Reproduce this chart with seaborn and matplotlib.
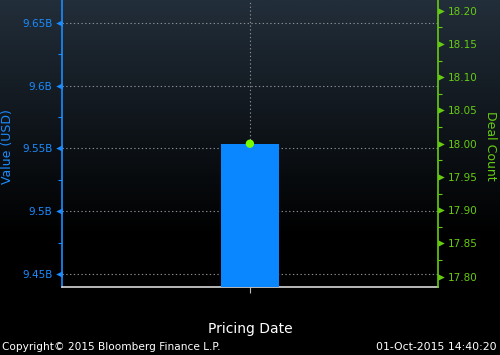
import numpy as np
import pandas as pd
import matplotlib
matplotlib.use("Agg")
import matplotlib.pyplot as plt
import matplotlib.transforms as mtransforms
from matplotlib.colors import LinearSegmentedColormap
import seaborn as sns

# ---- data ----
categories = ["2015-10-01"]
value_usd = [9.5535e9]
deal_count = [18.0]
left_ticks = [9.45e9, 9.50e9, 9.55e9, 9.60e9, 9.65e9]
left_labels = ["9.45B", "9.5B", "9.55B", "9.6B", "9.65B"]
right_ticks = [17.80, 17.85, 17.90, 17.95, 18.00, 18.05, 18.10, 18.15, 18.20]
right_labels = ["17.80", "17.85", "17.90", "17.95", "18.00", "18.05", "18.10", "18.15", "18.20"]

BLUE = "#1a8cff"
BAR = "#0a86ff"
GREEN = "#66cc11"
DOT = "#77ff00"
GRID = "#8a8f95"

sns.set_theme(style="dark")
plt.rcParams["font.family"] = ["DejaVu Sans"]

fig = plt.figure(figsize=(5.0, 3.55), dpi=100)
fig.patch.set_facecolor("black")

# background gradient
bg = fig.add_axes([0, 0, 1, 1], zorder=-10)
grad = np.linspace(0, 1, 256).reshape(-1, 1)
cmap = LinearSegmentedColormap.from_list("bb", ["#222e3a", "#10161c", "#000000", "#000000"])
bg.imshow(grad, aspect="auto", cmap=cmap, extent=[0, 1, 0, 1], origin="upper")
bg.set_axis_off()

ax = fig.add_axes([0.123, 0.1924, 0.7536, 0.8076])
ax.set_facecolor("none")
ax.patch.set_alpha(0)

df = pd.DataFrame({"date": categories, "value": value_usd, "count": deal_count})
sns.barplot(data=df, x="date", y="value", ax=ax, color=BAR, width=0.155,
            saturation=1, edgecolor="none", zorder=3)

ax.set_yticks(left_ticks)
ax.set_yticklabels(left_labels)
ax.set_yticks([t + 0.025e9 for t in left_ticks], minor=True)
ax.set_xlim(-0.5, 0.5)
ax.set_ylim(9.43989e9, 9.66807e9)
ax.tick_params(axis="y", which="major", length=0, pad=6.5, labelsize=7.5, colors=BLUE, labelcolor=BLUE)
ax.tick_params(axis="y", which="minor", length=3, width=0.8, color=BLUE, direction="out", left=True)
ax.tick_params(axis="x", which="major", length=4, width=0.8, color="#bbbbbb", labelbottom=False, bottom=True)
ax.grid(True, axis="y", which="major", linestyle=(0, (1.2, 2.2)), color=GRID, linewidth=0.8, zorder=0)
ax.grid(True, axis="x", which="major", linestyle=(0, (1.2, 2.2)), color=GRID, linewidth=0.8, zorder=0)
ax.grid(False, which="minor")
ax.set_axisbelow(True)

for s in ["top", "right"]:
    ax.spines[s].set_visible(False)
ax.spines["left"].set_visible(True)
ax.spines["left"].set_color(BLUE)
ax.spines["left"].set_linewidth(1.2)
ax.spines["bottom"].set_visible(True)
ax.spines["bottom"].set_color("#d8d8d8")
ax.spines["bottom"].set_linewidth(1.2)

# triangle tick markers on left axis
trL = mtransforms.blended_transform_factory(ax.transAxes, ax.transData)
trL = trL + mtransforms.ScaledTranslation(-3 / 100, 0, fig.dpi_scale_trans)
ax.scatter([0] * len(left_ticks), left_ticks, marker="<", s=22, color=BLUE,
           transform=trL, clip_on=False, zorder=5, linewidths=0)
ax.set_ylim(9.43989e9, 9.66807e9)

ax.set_xlabel("Pricing Date", color="white", fontsize=10, va="top")
ax.xaxis.set_label_coords(0.5, -0.122)
ax.set_ylabel("Value (USD)", color=BLUE, fontsize=9, va="bottom")
ax.yaxis.set_label_coords(-0.126, 0.49)

ax2 = ax.twinx()
ax2.set_facecolor("none")
sns.scatterplot(data=df, x="date", y="count", ax=ax2, color=DOT, s=36,
                edgecolor="none", zorder=6, clip_on=False)
ax2.set_yticks(right_ticks)
ax2.set_yticklabels(right_labels)
ax2.set_yticks([t + 0.025 for t in right_ticks], minor=True)
ax2.set_xlim(-0.5, 0.5)
ax2.set_ylim(17.78496, 18.2161)
ax2.tick_params(axis="y", which="major", length=0, pad=7, labelsize=7.5, colors=GREEN, labelcolor=GREEN)
ax2.tick_params(axis="y", which="minor", length=3, width=0.8, color=GREEN, direction="out", right=True)
ax2.grid(False)
for s in ["top", "left", "bottom"]:
    ax2.spines[s].set_visible(False)
ax2.spines["right"].set_visible(True)
ax2.spines["right"].set_color(GREEN)
ax2.spines["right"].set_linewidth(1.2)
ax2.set_xlabel("")
ax2.set_ylabel("Deal Count", color=GREEN, fontsize=9, rotation=270, va="bottom")
ax2.yaxis.set_label_coords(1.122, 0.49)

trR = mtransforms.blended_transform_factory(ax2.transAxes, ax2.transData)
trR = trR + mtransforms.ScaledTranslation(3 / 100, 0, fig.dpi_scale_trans)
ax2.scatter([1] * len(right_ticks), right_ticks, marker=">", s=22, color=GREEN,
            transform=trR, clip_on=False, zorder=5, linewidths=0)
ax2.set_ylim(17.78496, 18.2161)

fig.text(0.004, 0.022, "Copyright\u00a9 2015 Bloomberg Finance L.P.", color="white",
         fontsize=7.6, ha="left", va="center")
fig.text(0.994, 0.022, "01-Oct-2015 14:40:20", color="white",
         fontsize=7.8, ha="right", va="center")

fig.savefig("out.png", dpi=100, facecolor=fig.get_facecolor())
